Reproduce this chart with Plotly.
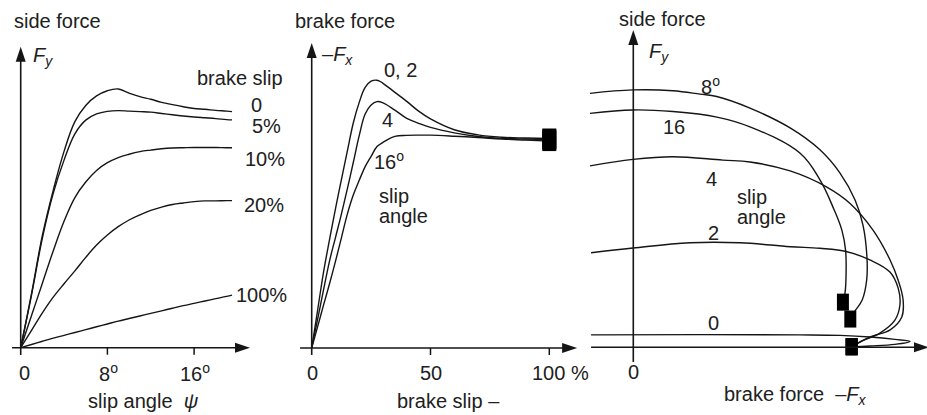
import plotly.graph_objects as go

# ---------------- data ----------------
# Left: side force Fy vs slip angle, brake slip as parameter
slip_angle_deg = [0, 1, 2, 3, 4, 5, 6, 7, 8, 9, 10, 11, 12, 13, 14, 15, 16, 17, 18, 19, 19.5]
fy_slip_0 = [0, 0.210, 0.435, 0.610, 0.761, 0.876, 0.939, 0.976, 0.996, 1.003, 0.987, 0.973,
             0.963, 0.951, 0.942, 0.934, 0.927, 0.924, 0.920, 0.917, 0.915]
fy_slip_5 = [0, 0.205, 0.425, 0.598, 0.727, 0.829, 0.882, 0.906, 0.916, 0.919, 0.917, 0.915,
             0.913, 0.908, 0.903, 0.898, 0.894, 0.891, 0.888, 0.884, 0.883]
fy_slip_10 = [0, 0.125, 0.250, 0.375, 0.490, 0.582, 0.642, 0.687, 0.717, 0.737, 0.750, 0.760,
              0.766, 0.771, 0.774, 0.775, 0.776, 0.776, 0.776, 0.775, 0.775]
fy_slip_20 = [0, 0.067, 0.135, 0.196, 0.248, 0.298, 0.350, 0.398, 0.437, 0.469, 0.495, 0.515,
              0.532, 0.545, 0.555, 0.561, 0.566, 0.569, 0.569, 0.570, 0.570]
fy_slip_100 = [0, 0.0125, 0.025, 0.037, 0.048, 0.059, 0.070, 0.081, 0.092, 0.103, 0.113, 0.123,
               0.133, 0.143, 0.153, 0.163, 0.172, 0.181, 0.190, 0.199, 0.204]
left_series = [fy_slip_0, fy_slip_5, fy_slip_10, fy_slip_20, fy_slip_100]
left_labels = ["0", "5%", "10%", "20%", "100%"]

# Middle: brake force -Fx vs brake slip, slip angle as parameter
brake_slip_pct = [0, 2.5, 5, 7.5, 10, 12.5, 15, 17.5, 20, 22.5, 25, 27.5, 30, 35, 40, 45, 50,
                  60, 70, 80, 90, 100]
fx_alpha_0_2 = [0, 0.147, 0.295, 0.420, 0.539, 0.653, 0.763, 0.872, 0.952, 1.010, 1.034, 1.038,
                1.026, 0.991, 0.956, 0.918, 0.888, 0.846, 0.826, 0.817, 0.814, 0.812]
fx_alpha_4 = [0, 0.112, 0.226, 0.337, 0.428, 0.519, 0.617, 0.719, 0.823, 0.907, 0.942, 0.955,
              0.950, 0.922, 0.890, 0.871, 0.855, 0.834, 0.820, 0.813, 0.810, 0.808]
fx_alpha_16 = [0, 0.083, 0.167, 0.249, 0.336, 0.427, 0.519, 0.593, 0.650, 0.703, 0.743, 0.781,
               0.797, 0.820, 0.824, 0.825, 0.825, 0.821, 0.816, 0.810, 0.806, 0.802]
mid_series = [fx_alpha_0_2, fx_alpha_4, fx_alpha_16]

# Right: side force Fy vs brake force -Fx, slip angle as parameter (brake slip runs along curve)
bf_alpha_16 = [-0.164, -0.001, 0.150, 0.317, 0.442, 0.631, 0.707, 0.756, 0.790, 0.804, 0.806, 0.802, 0.794]
sf_alpha_16 = [0.886, 0.899, 0.893, 0.872, 0.835, 0.736, 0.634, 0.532, 0.444, 0.368, 0.281, 0.206, 0.171]
bf_alpha_8 = [-0.164, -0.001, 0.150, 0.253, 0.316, 0.442, 0.594, 0.707, 0.783, 0.840, 0.870, 0.885,
              0.884, 0.867, 0.840, 0.822]
sf_alpha_8 = [0.962, 0.975, 0.972, 0.959, 0.950, 0.906, 0.831, 0.748, 0.660, 0.558, 0.463, 0.342,
              0.255, 0.179, 0.138, 0.107]
bf_alpha_4 = [-0.164, -0.001, 0.150, 0.339, 0.442, 0.594, 0.733, 0.820, 0.908, 0.973, 1.003, 1.022,
              1.017, 0.973, 0.897, 0.827]
sf_alpha_4 = [0.687, 0.712, 0.722, 0.709, 0.702, 0.668, 0.607, 0.546, 0.444, 0.330, 0.255, 0.179,
              0.115, 0.066, 0.039, 0.002]
bf_alpha_2 = [-0.160, -0.001, 0.215, 0.404, 0.594, 0.707, 0.809, 0.896, 0.972, 1.003, 1.010, 0.991,
              0.934, 0.866, 0.827]
sf_alpha_2 = [0.358, 0.376, 0.396, 0.396, 0.381, 0.375, 0.362, 0.331, 0.285, 0.225, 0.161, 0.103,
              0.054, 0.024, 0.002]
bf_alpha_0 = [-0.160, 0.253, 0.631, 0.783, 0.897, 0.991, 1.048, 0.991, 0.897, 0.827]
sf_alpha_0 = [0.047, 0.048, 0.047, 0.045, 0.039, 0.030, 0.022, 0.011, 0.005, 0.002]
right_series = [(bf_alpha_16, sf_alpha_16), (bf_alpha_8, sf_alpha_8), (bf_alpha_4, sf_alpha_4),
                (bf_alpha_2, sf_alpha_2), (bf_alpha_0, sf_alpha_0)]

left_ticks = [0, 8, 16]
left_tick_text = ["0", "8<sup>o</sup>", "16<sup>o</sup>"]
mid_ticks = [0, 50, 100]
mid_tick_text = ["0", "50", "100 %"]
right_ticks = [0]
right_tick_text = ["0"]

# ---------------- layout / calibration ----------------
W, H = 927, 415
FONT = "Liberation Sans, Arial, sans-serif"
FS = 20
INK = "#151515"
TXT = "#202020"

panels = {
    "L": dict(pl=0, pr=290, ox=20.7, oy=347.7, sx=10.8375, sy=258.0, xa="x", ya="y"),
    "M": dict(pl=290, pr=580, ox=311.7, oy=348.0, sx=2.376, sy=258.0, xa="x2", ya="y2"),
    "R": dict(pl=580, pr=927, ox=633.3, oy=347.3, sx=264.0, sy=264.0, xa="x3", ya="y3"),
}

fig = go.Figure()
shapes = []
annotations = []


def ann(p, x, y, text, xanchor="center", yanchor="middle", size=FS, xshift=0, yshift=0):
    annotations.append(dict(x=x, y=y, xref=p["xa"], yref=p["ya"], text=text, showarrow=False,
                            xanchor=xanchor, yanchor=yanchor, xshift=xshift, yshift=yshift,
                            font=dict(family=FONT, size=size, color=TXT)))


def axis_arrows(p, x_from, x_tip, y_from, y_tip, lw=1.6, head_len=15, head_hw=5):
    xa, ya, sx, sy = p["xa"], p["ya"], p["sx"], p["sy"]
    shapes.append(dict(type="line", xref=xa, yref=ya, x0=x_from, y0=0,
                       x1=x_tip - head_len / sx * 0.5, y1=0, line=dict(color=INK, width=lw)))
    hx = x_tip - head_len / sx
    shapes.append(dict(type="path", xref=xa, yref=ya,
                       path=f"M{x_tip},0 L{hx},{head_hw / sy} L{hx},{-head_hw / sy} Z",
                       fillcolor=INK, line=dict(width=0)))
    shapes.append(dict(type="line", xref=xa, yref=ya, x0=0, y0=y_from, x1=0,
                       y1=y_tip - head_len / sy * 0.5, line=dict(color=INK, width=lw)))
    hy = y_tip - head_len / sy
    shapes.append(dict(type="path", xref=xa, yref=ya,
                       path=f"M0,{y_tip} L{-head_hw / sx},{hy} L{head_hw / sx},{hy} Z",
                       fillcolor=INK, line=dict(width=0)))


def ticks(p, vals, texts, tick_px=7, label_px=25, shifts=None):
    for i, (v, t) in enumerate(zip(vals, texts)):
        if v != 0:
            shapes.append(dict(type="line", xref=p["xa"], yref=p["ya"], x0=v, x1=v, y0=0,
                               y1=-tick_px / p["sy"], line=dict(color=INK, width=1.5)))
        ann(p, v, -label_px / p["sy"], t, xshift=(shifts[i] if shifts else 0))


def end_square(p, x, y, wpx, hpx):
    shapes.append(dict(type="rect", xref=p["xa"], yref=p["ya"], xsizemode="pixel",
                       ysizemode="pixel", xanchor=x, yanchor=y, x0=-wpx / 2, x1=wpx / 2,
                       y0=-hpx / 2, y1=hpx / 2, fillcolor="black", line=dict(width=0)))


line_style = dict(color=INK, width=1.4, shape="spline", smoothing=1.1)

# ---- left panel ----
L = panels["L"]
for ys in left_series:
    fig.add_trace(go.Scatter(x=slip_angle_deg, y=ys, mode="lines", line=line_style,
                             xaxis="x", yaxis="y", hoverinfo="skip"))
axis_arrows(L, x_from=-0.80, x_tip=21.16, y_from=-0.028, y_tip=1.166)
ticks(L, left_ticks, left_tick_text, shifts=[4, 1, 1])
ann(L, -0.83, 1.266, "side force", xanchor="left")
ann(L, 0.95, 1.127, "<i>F<sub>y</sub></i>", xanchor="left")
ann(L, 16.08, 1.045, "brake slip", xanchor="left")
label_pos = [(21.80, 0.940), (22.70, 0.858), (22.54, 0.733), (22.45, 0.555), (22.24, 0.204)]
for (lx, ly), t in zip(label_pos, left_labels):
    ann(L, lx, ly, t)
ann(L, 11.33, -0.207, "slip angle  <i>ψ</i>")

# ---- middle panel ----
M = panels["M"]
for ys in mid_series:
    fig.add_trace(go.Scatter(x=brake_slip_pct, y=ys, mode="lines", line=line_style,
                             xaxis="x2", yaxis="y2", hoverinfo="skip"))
    end_square(M, brake_slip_pct[-1], ys[-1], 14, 20)
axis_arrows(M, x_from=-4.9, x_tip=111.7, y_from=-0.027, y_tip=1.182)
ticks(M, mid_ticks, mid_tick_text, shifts=[1, 0, 11])
ann(M, -7.87, 1.267, "brake force", xanchor="left")
ann(M, 3.49, 1.132, "–<i>F<sub>x</sub></i>", xanchor="left")
ann(M, 37.46, 1.076, "0, 2")
ann(M, 32.11, 0.884, "4")
ann(M, 32.53, 0.725, "16<sup>o</sup>")
ann(M, 27.48, 0.589, "slip", xanchor="left")
ann(M, 27.48, 0.512, "angle", xanchor="left")
ann(M, 57.37, -0.205, "brake slip –")

# ---- right panel ----
R = panels["R"]
for bx, sy_ in right_series:
    fig.add_trace(go.Scatter(x=bx, y=sy_, mode="lines", line=line_style,
                             xaxis="x3", yaxis="y3", hoverinfo="skip"))
    end_square(R, bx[-1], sy_[-1], 12, 17)
axis_arrows(R, x_from=-0.160, x_tip=1.12, y_from=-0.056, y_tip=1.202)
ticks(R, right_ticks, right_tick_text)
ann(R, -0.063, 1.244, "side force", xanchor="left")
ann(R, 0.051, 1.115, "<i>F<sub>y</sub></i>", xanchor="left")
ann(R, 0.294, 0.990, "8<sup>o</sup>")
ann(R, 0.154, 0.833, "16")
ann(R, 0.297, 0.638, "4")
ann(R, 0.385, 0.569, "slip", xanchor="left")
ann(R, 0.385, 0.494, "angle", xanchor="left")
ann(R, 0.302, 0.433, "2")
ann(R, 0.302, 0.092, "0")
ann(R, 0.335, -0.181, "brake force  –<i>F<sub>x</sub></i>", xanchor="left")

layout_axes = {}
for key, name in (("L", ""), ("M", "2"), ("R", "3")):
    p = panels[key]
    xr = [(p["pl"] - p["ox"]) / p["sx"], (p["pr"] - p["ox"]) / p["sx"]]
    yr = [(p["oy"] - H) / p["sy"], p["oy"] / p["sy"]]
    layout_axes["xaxis" + name] = dict(domain=[p["pl"] / W, p["pr"] / W], range=xr,
                                       visible=False, fixedrange=True,
                                       anchor="y" + name)
    layout_axes["yaxis" + name] = dict(domain=[0, 1], range=yr, visible=False,
                                       fixedrange=True, anchor="x" + name)

fig.update_layout(width=W, height=H, margin=dict(l=0, r=0, t=0, b=0),
                  paper_bgcolor="white", plot_bgcolor="white", showlegend=False,
                  shapes=shapes, annotations=annotations, **layout_axes)

fig.write_html("out.html", config={"displayModeBar": False})
